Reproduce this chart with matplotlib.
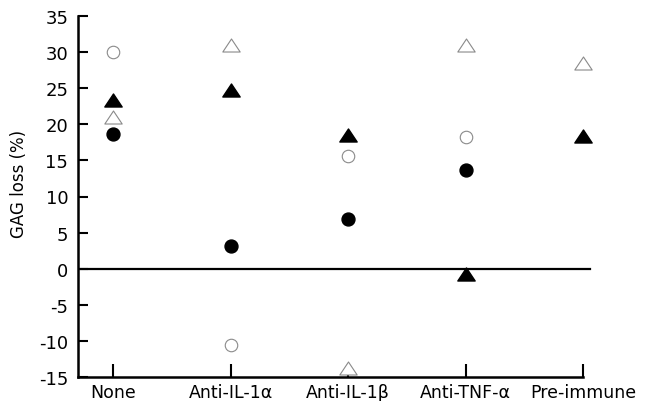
import numpy as np
import matplotlib
matplotlib.use("Agg")
import matplotlib.pyplot as plt
from matplotlib.path import Path

categories = ["None", "Anti-IL-1α", "Anti-IL-1β", "Anti-TNF-α", "Pre-immune"]
open_circle = [30.0, -10.5, 15.6, 18.2, np.nan]
filled_circle = [18.7, 3.2, 6.9, 13.7, np.nan]
open_triangle = [21.0, 31.0, -13.8, 31.0, 28.5]
filled_triangle = [23.4, 24.8, 18.5, -0.7, 18.4]
yticks = [-15, -10, -5, 0, 5, 10, 15, 20, 25, 30, 35]

plt.rcParams['font.family'] = ['DejaVu Sans']
plt.rcParams['axes.unicode_minus'] = False

tri = Path([(-1, -0.75), (1, -0.75), (0, 0.75), (-1, -0.75)],
           [Path.MOVETO, Path.LINETO, Path.LINETO, Path.CLOSEPOLY])

fig = plt.figure(figsize=(6.46, 4.02), dpi=100)
ax = fig.add_axes([78/646, 1-378/402, (595-78)/646, (378-17)/402])

x = np.arange(len(categories))
ax.plot(x, open_circle, 'o', ms=9, mfc='white', mec='#8a8a8a', mew=0.8, ls='none', zorder=3)
ax.plot(x, filled_circle, 'o', ms=9.3, mfc='black', mec='black', ls='none', zorder=3)
ax.plot(x, open_triangle, marker=tri, ms=12.5, mfc='white', mec='#8a8a8a', mew=0.8, ls='none', zorder=3)
ax.plot(x, filled_triangle, marker=tri, ms=12.5, mfc='black', mec='black', ls='none', zorder=3)

ax.set_xlim(-0.3, 4.1)
ax.set_ylim(-15, 35)
ax.axhline(0, xmin=0, xmax=(4.06+0.3)/4.4, color='black', lw=1.6, zorder=2)

for s in ['top', 'right']:
    ax.spines[s].set_visible(False)
for s in ['left', 'bottom']:
    ax.spines[s].set_linewidth(1.8)
ax.spines['bottom'].set_bounds(-0.3, 4)

ax.set_xticks(x)
ax.set_xticklabels(categories, fontsize=12.5)
ax.set_yticks(yticks)
ax.set_yticklabels([str(v) for v in yticks], fontsize=13)
ax.tick_params(axis='x', direction='in', length=9.5, width=1.5, pad=4)
ax.tick_params(axis='y', direction='in', length=7, width=1.5, pad=7)
ax.set_ylabel("GAG loss (%)", fontsize=12)
ax.yaxis.set_label_coords(-0.097, 0.537)

fig.savefig("out.png", dpi=100)
